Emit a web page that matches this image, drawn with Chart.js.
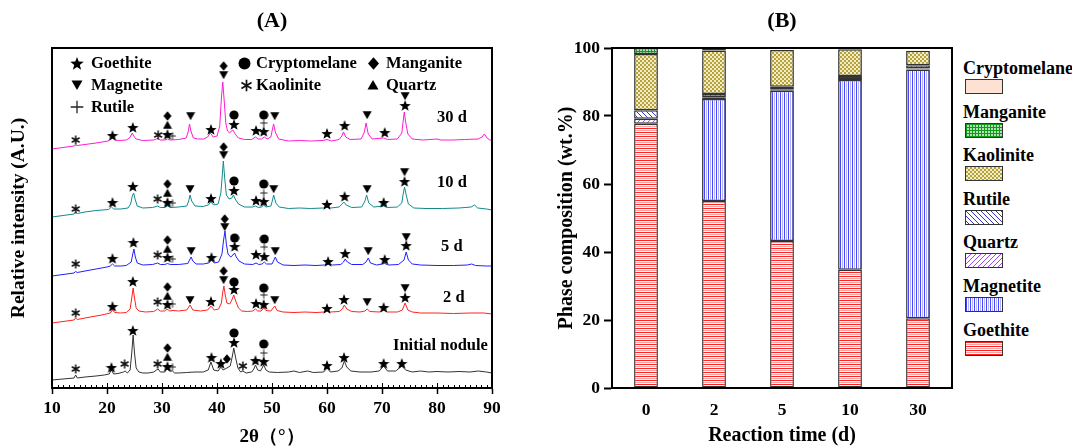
<!DOCTYPE html>
<html><head><meta charset="utf-8">
<script src="https://cdn.jsdelivr.net/npm/chart.js@4.4.1/dist/chart.umd.min.js"></script>
<style>
html,body{margin:0;padding:0;background:#fff}
body{width:1072px;height:448px;position:relative;overflow:hidden;font-family:"Liberation Serif","Times New Roman",serif;font-weight:bold;color:#000}
.abs{position:absolute;white-space:nowrap;z-index:5}
canvas.c{position:absolute;top:0}
.t{font-size:16.5px;line-height:20px;height:20px}
.lb{font-size:18px;line-height:20px;height:20px}
.sw{position:absolute;width:36px;height:13px;border:1.5px solid #333;image-rendering:pixelated;z-index:5}
.ttl{font-size:22px;line-height:24px;transform:translateX(-50%)}
</style>
</head><body>
<canvas id="ca" class="c" width="540" height="448" style="left:0"></canvas>
<canvas id="cb" class="c" width="420" height="448" style="left:540px"></canvas>
<div class="abs ttl" style="left:272px;top:8px">(A)</div>
<div class="abs ttl" style="left:782px;top:8px">(B)</div>
<div id="legA"></div>
<div id="legB"></div>
<script>
// ---------------- Panel A data (2θ, relative intensity incl. stacking offset) ----------------
const xrd30d = [[10,239],[12,240.5],[14.0,242],[14.3,243],[14.6,242.5],[16,243.5],[18,245],[20.2,247],[20.7,249],[21.0,251],[21.4,248],[22.2,247.5],[23.5,248],[24.1,250],[24.4,253],[24.6,255],[24.85,252],[25.3,249],[26.5,247.5],[28.5,248],[29.2,249.5],[29.7,248],[30.5,248],[31.0,249],[31.5,248],[33,248.5],[34.4,250],[34.75,256],[35.0,264],[35.25,257],[35.7,250],[36.5,249],[37.6,249],[38.3,251],[38.8,255],[39.3,251],[40.0,252],[40.5,262],[40.8,290],[41.05,306],[41.3,288],[41.6,265],[41.9,257],[42.3,255],[42.6,257],[42.9,258],[43.3,254],[43.9,250],[45,248.5],[46.3,248.5],[47.0,251],[47.5,249],[48.1,249],[48.6,251],[49.1,249],[49.8,251],[50.05,258],[50.3,264],[50.6,256],[51.2,249],[53,247],[55,247.5],[57,247],[59.3,247.5],[60,248.5],[60.8,247],[62.2,248.5],[62.7,252],[63.0,256],[63.4,251],[64.2,248.5],[66.2,249],[66.8,256],[67.1,265],[67.5,254],[68.2,249],[70.3,250],[71,248.5],[72.8,249],[73.6,255],[73.85,267],[74.05,276],[74.3,266],[74.7,254],[75.5,249],[77.5,248],[80,249],[80.7,248],[83,248],[85,248.5],[87.5,249],[88.2,251],[88.6,254],[89.1,250],[89.6,248],[90,248]];
const xrd10d = [[10,171],[12,172.5],[14.0,174],[14.3,176],[14.6,174.5],[16,176],[18,177.5],[20.3,178.5],[20.8,181],[21.2,179],[22.5,179],[23.8,180],[24.3,184],[24.6,192],[24.85,195],[25.1,189],[25.5,182],[26.5,180],[28.3,180.5],[29.2,182],[29.7,180.5],[30.5,180.5],[31.0,182],[31.5,180.5],[33,181],[34.5,182],[34.85,187],[35.1,193],[35.4,187],[36,182],[37.5,181.5],[38.4,183],[38.9,186],[39.4,183],[40.2,184],[40.7,195],[40.95,212],[41.15,227],[41.4,210],[41.7,193],[42.2,189],[42.7,190],[43.0,193],[43.3,189],[43.9,184],[45,181],[46.5,181],[47.0,182],[47.5,180.5],[48.1,181],[48.5,183],[48.9,181],[49.8,182],[50.05,187],[50.3,193],[50.7,185],[51.3,181],[53,179.5],[55,180],[57,179.5],[59.3,180],[60,181],[60.7,180],[62.2,181],[62.75,184],[63.05,186],[63.5,183],[64.5,180.5],[66.3,181],[66.9,187],[67.2,193],[67.6,185],[68.5,181],[70.3,182],[71,180.5],[72.8,181],[73.6,185],[73.85,194],[74.1,201],[74.4,193],[74.8,184],[75.8,180],[78,179.5],[81,179.5],[84,180],[86.2,181],[86.8,183],[87.4,180],[89,179],[90,178]];
const xrd5d = [[10,112],[12,113.5],[14.0,115],[14.3,116.5],[14.6,115.5],[16,117],[18,119],[20,121],[20.6,122],[21.0,124],[21.4,122],[22.5,122],[23.5,122.5],[24.4,126],[24.65,133],[24.9,139],[25.15,131],[25.5,125],[26.5,123],[28.3,123.5],[29.2,125],[29.7,123.5],[30.5,123.5],[31.0,124.5],[31.5,123.5],[33,123.5],[34.7,124.5],[35.0,128],[35.3,131],[35.6,127],[36.2,124],[37.5,124],[38.5,125],[39.0,128],[39.5,125],[40.3,126],[40.9,134],[41.2,148],[41.45,157],[41.7,144],[42.0,134],[42.5,131],[42.9,133],[43.2,135],[43.5,131],[44.0,127],[45,124],[46.5,123.5],[47.1,125],[47.6,123.5],[48.2,124],[48.6,126],[49.0,124],[50.0,124],[50.35,128],[50.6,131],[51.0,126],[52,123],[54,122.5],[56,123],[58,122.5],[59.5,123],[60.2,124],[61,123],[62.5,123.5],[63.0,126],[63.3,129],[63.7,126],[64.5,123.5],[66.5,123.5],[67.1,126],[67.5,130],[67.9,125],[69,123],[70.5,124.5],[71.2,123],[73,123.5],[74.0,128],[74.4,136],[74.8,128],[75.5,124],[77,123],[80,122.5],[83,122.5],[85.5,123],[86.3,124],[87,122.5],[89,122],[90,122]];
const xrd2d = [[10,65],[12,66.5],[14.0,68],[14.3,70],[14.6,68.5],[16,70],[18,72],[19.5,73.5],[20.6,75],[21.0,78],[21.4,75.5],[22.5,75],[23.5,75.5],[24.2,79],[24.5,90],[24.75,100],[25.0,90],[25.3,80],[25.8,77],[27,76],[28.5,76.5],[29.2,79],[29.7,77],[30.5,77],[30.9,79],[31.4,77],[32,77.5],[33,77],[34.5,78],[35.1,83],[35.6,78],[37,77],[38.3,78],[38.9,82],[39.5,78],[40.3,79],[40.8,85],[41.05,96],[41.25,102],[41.5,93],[41.8,85],[42.3,84],[42.7,88],[43.05,93],[43.4,87],[43.9,80],[44.5,77],[45.5,76.5],[46.5,77],[47.0,79],[47.4,77],[48.0,77],[48.5,80],[48.9,77.5],[49.8,77],[50.2,80],[50.5,82],[50.9,77.5],[52,76],[54,75.5],[56,76],[58,75.5],[59.5,76],[60,78],[60.6,76],[62.2,76.5],[62.8,79],[63.15,83],[63.6,79],[64.5,76.5],[66,76],[66.9,77],[67.3,79],[67.8,76.5],[69.5,76],[70.3,78.5],[71,76],[72.8,76],[73.7,78],[74.2,85],[74.7,78],[75.5,76],[77,75],[80,75],[83,74.5],[86,75],[88.5,75],[90,74]];
const xrdInitial = [[10,8],[12,9],[14.0,10],[14.3,13],[14.6,10],[16,11],[18,12],[19.5,13],[20.4,14],[20.8,18],[21.2,14],[22,14.5],[23.0,16],[23.3,17],[23.7,15],[24.2,18],[24.5,35],[24.75,53],[25.0,35],[25.3,20],[25.8,16],[26.5,15],[27.5,15],[28.5,16],[29.0,18],[29.3,19],[29.7,16],[30.5,16],[30.9,20],[31.3,17],[31.9,17],[32.3,15],[33,15],[34.5,15.5],[36,16],[37.5,16],[38.4,18],[38.9,26],[39.4,18],[40.2,17],[40.7,21],[41.1,18],[41.8,20],[42.4,22],[42.8,32],[43.05,40],[43.4,30],[43.8,20],[44.3,16],[44.7,17],[45.3,15],[46.3,16],[46.7,19],[47.0,23],[47.4,18],[47.9,17],[48.5,23],[48.9,18],[49.5,16],[51,15.5],[53,16],[54,17],[55,15.5],[56.5,17],[57.5,15.5],[59.4,16],[60.0,20],[60.6,16],[62.0,17],[62.7,20],[63.15,27],[63.6,21],[64.3,17],[66,16],[68,16],[69.5,17],[70.3,22],[71.0,17],[72.5,17],[73.6,22],[74.3,18],[75.5,16],[77,17],[78.5,16],[80,16.5],[82,16],[84,16.5],[86,16],[87.5,17],[89,16],[90,15]];

// phase markers on the patterns [2θ, height]
const markGoethite = [[21,253],[24.7,261],[31,254],[38.9,259],[43.1,264],[47.1,258],[48.5,257],[60,255],[63.2,263],[70.5,256],[74.2,283],
  [21,186],[24.7,202],[31,186],[38.9,190],[43.1,198],[47.1,188],[48.5,187],[60,184],[63.2,192],[70.3,186],[74.1,207],
  [21,130],[24.8,146],[31,131],[39,131],[43.2,142],[47.1,134],[48.6,132],[60.2,127],[63.3,135],[70.5,129],[74.4,143],
  [21,82],[24.7,107],[31,84],[38.9,87],[43.1,99],[47.1,85],[48.5,84],[60,80],[63.1,89],[70.3,81],[74.2,91],
  [20.8,21],[24.7,58],[31,22],[39,31],[40.7,25],[43.1,46],[47,28],[48.5,27],[60,23],[63.1,31],[70.3,25],[73.6,25]];
const markMagnetite = [[35.2,272],[41.2,313],[50.5,272],[67.3,273],[74.2,292],
  [35.1,199],[41.2,233],[50.3,199],[67.3,199],[74.1,216],
  [35.3,137],[41.4,161],[50.6,137],[67.5,137],[74.4,151],
  [35.1,88],[41.2,108],[50.5,88],[67.3,86],[74.2,100]];
const markRutile = [[31.9,252],[48.5,265],[31.9,185],[48.5,195],[31.9,129],[48.6,141],[31.9,84],[48.5,93],[31.9,21],[48.5,35]];
const markCryptomelane = [[43.1,273],[48.5,273],[43.1,207],[48.5,204],[43.2,150],[48.6,149],[43.1,106],[48.5,100],[43.1,55],[48.5,44]];
const markKaolinite = [[14.3,248],[29.3,253],[14.3,179],[29.2,189],[14.3,124],[29.2,133],[14.3,75],[29.2,86],[14.3,19],[23.2,24],[29.2,24],[44.7,22]];
const markManganite = [[31,272],[41.2,322],[31,204],[41.2,241],[31,148],[41.4,169],[31,101],[41.2,117],[31,40],[41.8,29]];
const markQuartz = [[31,263],[31,195],[31,139],[31,92],[31,31]];
const xTicks = [10,20,30,40,50,60,70,80,90];

// ---------------- Panel B data ----------------
const days = ['0','2','5','10','30'];
const goethite     = [77.7, 55.0, 43.2, 34.8, 20.5];
const magnetite    = [0,    30.0, 44.2, 55.8, 73.2];
const quartz       = [1.5,  0.5,  0.3,  0.3,  0.3];
const rutile       = [2.5,  1.0,  0.9,  0.9,  0.9];
const kaolinite    = [16.5, 12.8, 10.8, 7.8,  4.3];
const manganite    = [1.8,  0.7,  0,    0,    0];
const cryptomelane = [0,    0,    0,    0,    0];

const F = "'Liberation Serif','Times New Roman',serif";

// ---------- glyphs ----------
function glyph(kind, s, lw){
  const c=document.createElement('canvas'); c.width=s; c.height=s;
  const g=c.getContext('2d'); g.fillStyle='#000'; g.strokeStyle='#000'; const m=s/2;
  g.beginPath();
  if(kind==='star'){ const R=s/2, r=R*0.42; for(let i=0;i<10;i++){const a=-Math.PI/2+i*Math.PI/5; const rr=i%2?r:R; const px=m+rr*Math.cos(a), py=m+1+rr*Math.sin(a); i?g.lineTo(px,py):g.moveTo(px,py);} g.closePath(); g.fill(); }
  else if(kind==='down'){ g.moveTo(0.5,s*0.12); g.lineTo(s-0.5,s*0.12); g.lineTo(m,s*0.92); g.closePath(); g.fill(); }
  else if(kind==='up'){ g.moveTo(0.5,s*0.88); g.lineTo(s-0.5,s*0.88); g.lineTo(m,s*0.08); g.closePath(); g.fill(); }
  else if(kind==='circle'){ g.arc(m,m,s*0.46,0,Math.PI*2); g.fill(); }
  else if(kind==='diamond'){ g.moveTo(m,0.3); g.lineTo(s-1,m); g.lineTo(m,s-0.3); g.lineTo(1,m); g.closePath(); g.fill(); }
  else if(kind==='ast'){ g.lineWidth=lw||1.5; g.strokeStyle='#111'; const R=s*0.45; for(let k=0;k<3;k++){const a=Math.PI/2+k*Math.PI/3; g.moveTo(m-R*Math.cos(a),m-R*Math.sin(a)); g.lineTo(m+R*Math.cos(a),m+R*Math.sin(a));} g.stroke(); }
  else if(kind==='plus'){ g.lineWidth=lw||1; g.strokeStyle='#222'; const R=s*0.45; g.moveTo(m-R,m); g.lineTo(m+R,m); g.moveTo(m,m-R); g.lineTo(m,m+R); g.stroke(); }
  return c;
}
const G = {star:glyph('star',12), down:glyph('down',10), up:glyph('up',10), circle:glyph('circle',10), diamond:glyph('diamond',10), ast:glyph('ast',10), plus:glyph('plus',8)};

const pts = a => a.map(p=>({x:p[0],y:p[1]}));
const curve = (label,data,color)=>({label,data:pts(data),showLine:true,borderColor:color,borderWidth:1,pointRadius:0,tension:0,order:2});
const marks = (label,data,style)=>({label,data:pts(data),showLine:false,pointStyle:style,pointRadius:5,order:1});

const boxPlugin = {id:'box', afterDraw(chart,args,opts){
  const {ctx,chartArea:a}=chart; ctx.save(); ctx.strokeStyle='#000'; ctx.lineWidth=2;
  ctx.strokeRect(a.left,a.top,a.right-a.left,a.bottom-a.top);
  if(opts.minor){ const sx=chart.scales.x; ctx.lineWidth=1;
    for(let v=xTicks[0]; v<=xTicks[xTicks.length-1]; v+=1){ const px=Math.round(sx.getPixelForValue(v))+0.5; ctx.beginPath(); ctx.moveTo(px,a.bottom); ctx.lineTo(px,a.bottom-(v%10===0?5:3)); ctx.stroke(); } }
  ctx.restore(); }};

new Chart(document.getElementById('ca'),{
  type:'scatter',
  data:{datasets:[
    curve('30 d',xrd30d,'#ff1ad4'), curve('10 d',xrd10d,'#128a8e'), curve('5 d',xrd5d,'#2020ff'),
    curve('2 d',xrd2d,'#ff2222'), curve('Initial nodule',xrdInitial,'#333333'),
    marks('Goethite',markGoethite,G.star), marks('Magnetite',markMagnetite,G.down), marks('Rutile',markRutile,G.plus),
    marks('Cryptomelane',markCryptomelane,G.circle), marks('Kaolinite',markKaolinite,G.ast), marks('Manganite',markManganite,G.diamond),
    marks('Quartz',markQuartz,G.up)
  ]},
  options:{responsive:false,animation:false,devicePixelRatio:1,events:[],
    layout:{padding:{top:48,right:48,left:0,bottom:0}},
    plugins:{legend:{display:false},tooltip:{enabled:false},box:{minor:true}},
    scales:{
      x:{type:'linear',min:10,max:90,afterBuildTicks(s){s.ticks=xTicks.map(v=>({value:v}));},
        ticks:{color:'#000',font:{family:F,size:17.5,weight:'bold'},padding:4,maxRotation:0,autoSkip:false},
        grid:{drawOnChartArea:false,color:'#000',tickLength:6,tickWidth:1.5},
        border:{color:'#000',width:2},
        title:{display:true,text:'2θ（°）',color:'#000',font:{family:F,size:19,weight:'bold'},padding:{top:0,bottom:0}},
        afterFit(s){s.height=60;}},
      y:{min:0,max:340,ticks:{display:false},grid:{display:false},border:{color:'#000',width:2},
        title:{display:true,text:'Relative intensity (A.U.)',color:'#000',font:{family:F,size:19.5,weight:'bold'},padding:{top:7,bottom:0}},
        afterFit(s){s.width=52;}}
    }},
  plugins:[boxPlugin]
});

// ---------- patterns for panel B ----------
function tile(w,h,draw){const c=document.createElement('canvas');c.width=w;c.height=h;const g=c.getContext('2d');draw(g);return c;}
function px(g,x,y,col){g.fillStyle=col;g.fillRect(x,y,1,1);}
const tiles = {
  Goethite: tile(4,4,g=>{g.fillStyle='#fff';g.fillRect(0,0,4,4);g.fillStyle='#ff2424';g.fillRect(0,0,4,1);g.fillStyle='#ffa6a6';g.fillRect(0,2,4,1);}),
  Magnetite: tile(4,4,g=>{g.fillStyle='#fff';g.fillRect(0,0,4,4);g.fillStyle='#4646ff';g.fillRect(0,0,1,4);g.fillStyle='#b4b4ff';g.fillRect(2,0,1,4);}),
  Quartz: tile(5,5,g=>{g.fillStyle='#fff';g.fillRect(0,0,5,5);for(let i=0;i<5;i++)px(g,4-i,i,'#9a48ff');}),
  Rutile: tile(5,5,g=>{g.fillStyle='#fff';g.fillRect(0,0,5,5);for(let i=0;i<5;i++)px(g,i,i,'#3434c8');}),
  Kaolinite: tile(4,4,g=>{g.fillStyle='#f3ecc6';g.fillRect(0,0,4,4);g.fillStyle='#b4a23a';g.fillRect(0,0,2,2);g.fillRect(2,2,2,2);}),
  Manganite: tile(3,3,g=>{g.fillStyle='#b2e2b2';g.fillRect(0,0,3,3);g.fillStyle='#119a1c';g.fillRect(0,0,3,1);g.fillRect(0,0,1,3);}),
  Cryptomelane: tile(2,2,g=>{g.fillStyle='#fde2d3';g.fillRect(0,0,2,2);})
};
const cb=document.getElementById('cb'); const cbx=cb.getContext('2d');
const pat = k => cbx.createPattern(tiles[k],'repeat');
const barSet=(label,data)=>({label,data,backgroundColor:pat(label),borderColor:'#333',borderWidth:1.5,borderSkipped:false,barPercentage:0.35,categoryPercentage:1});

new Chart(cb,{
  type:'bar',
  data:{labels:days,datasets:[barSet('Goethite',goethite),barSet('Magnetite',magnetite),barSet('Quartz',quartz),barSet('Rutile',rutile),
    barSet('Kaolinite',kaolinite),barSet('Manganite',manganite),barSet('Cryptomelane',cryptomelane)]},
  options:{responsive:false,animation:false,devicePixelRatio:1,events:[],
    layout:{padding:{top:48,right:8,left:0,bottom:0}},
    plugins:{legend:{display:false},tooltip:{enabled:false},box:{}},
    scales:{
      x:{stacked:true,ticks:{color:'#000',font:{family:F,size:17.5,weight:'bold'},padding:12},
        grid:{display:true,drawOnChartArea:false,drawTicks:false,color:'#000'},border:{color:'#000',width:2},
        title:{display:true,text:'Reaction time (d)',color:'#000',font:{family:F,size:20,weight:'bold'},padding:{top:0,bottom:0}},
        afterFit(s){s.height=60;}},
      y:{stacked:true,min:0,max:100,ticks:{stepSize:20,color:'#000',font:{family:F,size:17.5,weight:'bold'},padding:4},
        grid:{drawOnChartArea:false,color:'#000',tickLength:8,tickWidth:2},border:{color:'#000',width:2},
        title:{display:true,text:'Phase composition (wt.%)',color:'#000',font:{family:F,size:20,weight:'bold'},padding:{top:15,bottom:0}},
        afterFit(s){s.width=72;}}
    }},
  plugins:[boxPlugin]
});

// ---------- HTML legends / labels ----------
function addText(parent,txt,left,cy,cls){const d=document.createElement('div');d.className='abs '+cls;d.textContent=txt;d.style.left=left+'px';d.style.top=(cy-10)+'px';parent.appendChild(d);return d;}
function addGlyph(parent,c,cx,cy){const im=document.createElement('img');im.src=c.toDataURL();im.className='abs';im.style.left=(cx-c.width/2)+'px';im.style.top=(cy-c.height/2)+'px';parent.appendChild(im);}
const LA=document.getElementById('legA');
const legendA=[['star','Goethite',77,63,91],['down','Magnetite',77,85,91],['plus','Rutile',77,107,91],
  ['circle','Cryptomelane',244,63,256],['ast','Kaolinite',246,85,256],['diamond','Manganite',373,63,386],['up','Quartz',373,85,386]];
const LG={star:glyph('star',14),down:glyph('down',12),plus:glyph('plus',14,1.3),circle:glyph('circle',13),ast:glyph('ast',13,1.7),diamond:glyph('diamond',13),up:glyph('up',12)};
legendA.forEach(([k,t,gx,gy,tx])=>{addGlyph(LA,LG[k],gx,gy);addText(LA,t,tx,gy,'t');});
[['30 d',437,117],['10 d',437,182],['5 d',441,246],['2 d',443,297],['Initial nodule',393,345]].forEach(([t,x,y])=>addText(LA,t,x,y,'t'));

const LB=document.getElementById('legB');
['Cryptomelane','Manganite','Kaolinite','Rutile','Quartz','Magnetite','Goethite'].forEach((k,i)=>{
  const cy=68+i*43.6; addText(LB,k,963,cy,'lb');
  const s=document.createElement('div'); s.className='sw'; s.style.left='965px'; s.style.top=(cy+11)+'px';
  s.style.backgroundImage='url('+tiles[k].toDataURL()+')'; LB.appendChild(s);
});
</script>
</body></html>
